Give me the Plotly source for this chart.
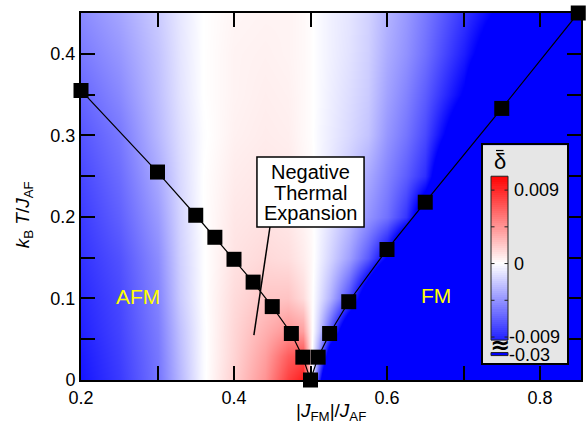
import numpy as np
import plotly.graph_objects as go

# ---------------- data ----------------
# phase boundary points
J_FM = [0.2, 0.3, 0.35, 0.375, 0.4, 0.425, 0.45, 0.475, 0.49, 0.5, 0.51, 0.525, 0.55, 0.6, 0.65, 0.75, 0.85]
T_C = [0.355, 0.255, 0.202, 0.175, 0.148, 0.12, 0.09, 0.057, 0.028, 0.0, 0.028, 0.057, 0.096, 0.16, 0.218, 0.333, 0.45]

# background map of delta-bar (units of 1e-3)
GRID_X = [0.2, 0.25, 0.3, 0.33, 0.36, 0.4, 0.44, 0.47, 0.49, 0.5, 0.51, 0.525, 0.55, 0.575, 0.6, 0.625, 0.65, 0.7, 0.75, 0.8, 0.855]
GRID_T = [0.0, 0.03, 0.06, 0.1, 0.15, 0.2, 0.25, 0.3, 0.35, 0.4, 0.45]
DELTA_T000 = [-9.8, -8.3, -5.8, -3.0, -0.2, 2.0, 4.5, 8.0, 9.5, 1.0, -8.0, -20, -20, -20, -20, -20, -20, -20, -20, -20, -20]
DELTA_T003 = [-9.6, -8.1, -5.7, -2.8, -0.2, 1.8, 4.0, 6.8, 7.5, 0.5, -4.0, -14, -20, -20, -20, -20, -20, -20, -20, -20, -20]
DELTA_T006 = [-9.3, -7.9, -5.5, -2.6, -0.2, 1.7, 3.3, 4.5, 4.0, 0.5, -2.0, -7.0, -15, -20, -20, -20, -20, -20, -20, -20, -20]
DELTA_T010 = [-9.0, -7.7, -5.2, -2.2, -0.1, 1.5, 2.4, 2.5, 1.5, 0.3, -1.0, -3.2, -7.5, -14, -20, -20, -20, -20, -20, -20, -20]
DELTA_T015 = [-8.6, -7.3, -4.8, -2.0, -0.1, 1.2, 1.6, 1.4, 0.8, 0.3, -0.5, -1.8, -4.0, -7.0, -11, -18, -20, -20, -20, -20, -20]
DELTA_T020 = [-8.2, -6.7, -4.2, -1.8, 0.0, 1.0, 1.2, 1.0, 0.5, 0.2, -0.3, -1.2, -2.7, -4.5, -6.0, -8.5, -14, -20, -20, -20, -20]
DELTA_T025 = [-7.7, -6.2, -3.6, -1.6, 0.0, 0.8, 1.0, 0.9, 0.4, 0.2, -0.3, -1.0, -2.2, -3.6, -5.2, -6.8, -8.8, -20, -20, -20, -20]
DELTA_T030 = [-7.1, -5.7, -3.0, -1.4, -0.1, 0.6, 0.8, 0.7, 0.3, 0.1, -0.3, -0.8, -1.6, -2.5, -4.4, -5.8, -7.6, -14, -20, -20, -20]
DELTA_T035 = [-6.4, -5.0, -2.7, -1.2, 0.0, 0.5, 0.7, 0.6, 0.3, 0.1, -0.2, -0.7, -1.4, -2.2, -3.9, -5.2, -6.8, -11, -20, -20, -20]
DELTA_T040 = [-5.6, -4.4, -2.5, -1.1, 0.0, 0.5, 0.6, 0.5, 0.3, 0.1, -0.2, -0.6, -1.2, -2.0, -3.5, -4.6, -6.0, -9.5, -14, -20, -20]
DELTA_T045 = [-4.9, -3.8, -2.2, -1.0, 0.0, 0.4, 0.5, 0.5, 0.3, 0.1, -0.2, -0.6, -1.1, -1.9, -3.2, -4.3, -5.6, -8.5, -11.5, -20, -20]
DELTA_SCALE = 1e-3

# colour bar
CB_MIN, CB_MAX = -0.00937, 0.0107
CB_TICKS = [0.009, 0.0045, 0.0, -0.0045, -0.009]
CB_LABELS = ["0.009", "0", "-0.009"]
CB_LABEL_VALS = [0.009, 0.0, -0.009]
CB_BREAK_VAL = -0.03

FONT = "Liberation Sans, Arial, sans-serif"

z = np.array([DELTA_T000, DELTA_T003, DELTA_T006, DELTA_T010, DELTA_T015, DELTA_T020,
              DELTA_T025, DELTA_T030, DELTA_T035, DELTA_T040, DELTA_T045]) * DELTA_SCALE

fig = go.Figure()

fig.add_trace(go.Heatmap(x=GRID_X, y=GRID_T, z=z, coloraxis="coloraxis",
                         zsmooth="best", hoverinfo="skip"))

fig.add_trace(go.Scatter(x=J_FM, y=T_C, mode="lines+markers",
                         line=dict(color="black", width=1.2),
                         marker=dict(symbol="square", size=15, color="black"),
                         cliponaxis=False, showlegend=False))

# ---- manual colour bar in an inset subplot ----
cb_edges = np.linspace(CB_MIN, CB_MAX, 81)
cb_mid = (cb_edges[:-1] + cb_edges[1:]) / 2
fig.add_trace(go.Heatmap(x=[8, 25], y=cb_edges, z=cb_mid.reshape(-1, 1),
                         coloraxis="coloraxis", xaxis="x2", yaxis="y2",
                         hoverinfo="skip"))
fig.add_trace(go.Heatmap(x=[8, 25], y=[-0.01127, -0.0109], z=[[CB_BREAK_VAL]],
                         coloraxis="coloraxis", xaxis="x2", yaxis="y2",
                         hoverinfo="skip"))

shapes = []
# outline of colour bar and break strip
shapes.append(dict(type="rect", xref="x2", yref="y2", x0=8, x1=25, y0=CB_MIN, y1=CB_MAX,
                   line=dict(color="#222", width=1), layer="above"))
shapes.append(dict(type="rect", xref="x2", yref="y2", x0=8, x1=25, y0=-0.01127, y1=-0.0109,
                   line=dict(color="#222", width=1), layer="above"))
for v in CB_TICKS:
    shapes.append(dict(type="line", xref="x2", yref="y2", x0=8, x1=11.5, y0=v, y1=v,
                       line=dict(color="#222", width=1)))
    shapes.append(dict(type="line", xref="x2", yref="y2", x0=21.5, x1=25, y0=v, y1=v,
                       line=dict(color="#222", width=1)))
# overline of the delta-bar symbol
shapes.append(dict(type="line", xref="x2", yref="y2", x0=13.0, x1=20.5, y0=0.01385, y1=0.01385,
                   line=dict(color="black", width=1.2)))

# Negative thermal expansion box + pointer line
shapes.append(dict(type="rect", xref="x", yref="y", x0=0.430, x1=0.570, y0=0.1876, y1=0.2734,
                   fillcolor="white", line=dict(color="black", width=1.5), layer="above"))
shapes.append(dict(type="line", xref="x", yref="y", x0=0.447, y0=0.1876, x1=0.426, y1=0.055,
                   line=dict(color="black", width=1.5), layer="above"))

annotations = []
for txt, ty in zip(["Negative", "Thermal", "Expansion"], [0.2545, 0.2295, 0.2045]):
    annotations.append(dict(x=0.5, y=ty, xref="x", yref="y", text=txt, showarrow=False,
                            font=dict(family=FONT, size=20, color="black")))
annotations.append(dict(x=0.2745, y=0.103, xref="x", yref="y", text="AFM", showarrow=False,
                        font=dict(family=FONT, size=21, color="#ffff00")))
annotations.append(dict(x=0.664, y=0.104, xref="x", yref="y", text="FM", showarrow=False,
                        font=dict(family=FONT, size=21, color="#ffff00")))
for lab, v in zip(CB_LABELS, CB_LABEL_VALS):
    xa = 23.5 if lab.startswith("-") else 29
    annotations.append(dict(x=xa, y=v, xref="x2", yref="y2", text=lab, showarrow=False,
                            xanchor="left", font=dict(family=FONT, size=18, color="black")))
annotations.append(dict(x=23.5, y=-0.01125, xref="x2", yref="y2", text="-0.03", showarrow=False,
                        xanchor="left", font=dict(family=FONT, size=18, color="black")))
annotations.append(dict(x=16.5, y=-0.0100, xref="x2", yref="y2", text="<b>≈</b>", showarrow=False,
                        font=dict(family="DejaVu Sans", size=24, color="black")))
annotations.append(dict(x=16.7, y=0.0125, xref="x2", yref="y2", text="δ", showarrow=False,
                        font=dict(family=FONT, size=22, color="black")))

# axis titles as annotations (precise placement)
annotations.append(dict(x=0.5, y=-0.088, xref="paper", yref="paper", yanchor="middle",
                        text="|<i>J</i><sub>FM</sub>|/<i>J</i><sub>AF</sub>", showarrow=False,
                        font=dict(family=FONT, size=19, color="black")))
annotations.append(dict(x=-0.115, y=0.45, xref="paper", yref="paper", xanchor="center",
                        text="<i>k</i><sub>B</sub> <i>T</i>/<i>J</i><sub>AF</sub>", showarrow=False,
                        textangle=-90, font=dict(family=FONT, size=19, color="black")))

axis_common = dict(showgrid=False, zeroline=False, ticks="inside", ticklen=14, tickwidth=1.5,
                   tickcolor="black", showline=True, linecolor="black", linewidth=2,
                   mirror="ticks", automargin=False,
                   tickfont=dict(family=FONT, size=18, color="black"))

fig.update_layout(
    width=587, height=428, autosize=False,
    margin=dict(l=81, r=6, t=13, b=48),
    paper_bgcolor="white", plot_bgcolor="#e6e6e6",
    showlegend=False,
    coloraxis=dict(cmin=-0.0107, cmax=0.0107, showscale=False,
                   colorscale=[[0, "#0000ff"], [0.5, "#ffffff"], [1, "#ff0000"]]),
    xaxis=dict(range=[0.2, 0.8536], tickvals=[0.2, 0.4, 0.6, 0.8], ticktext=["0.2", "0.4", "0.6", "0.8"],
               minor=dict(dtick=0.1, tick0=0.2, ticks="inside", ticklen=14, tickwidth=1.5, tickcolor="black"),
               **axis_common),
    yaxis=dict(range=[0, 0.45], tickvals=[0, 0.1, 0.2, 0.3, 0.4], ticktext=["0", "0.1", "0.2", "0.3", "0.4"],
               minor=dict(dtick=0.05, tick0=0, ticks="inside", ticklen=14, tickwidth=1.5, tickcolor="black"),
               **axis_common),
    xaxis2=dict(domain=[0.804, 0.972], range=[0, 84], anchor="y2", showgrid=False, zeroline=False,
                showticklabels=False, ticks="", showline=True, mirror=True, linecolor="black", linewidth=1.5,
                fixedrange=True, automargin=False),
    yaxis2=dict(domain=[0.0463, 0.640], range=[-0.01218, 0.01451], anchor="x2", showgrid=False,
                zeroline=False, showticklabels=False, ticks="", showline=True, mirror=True,
                linecolor="black", linewidth=1.5, fixedrange=True, automargin=False),
    shapes=shapes,
    annotations=annotations,
)

fig.write_html("out.html", config={"displayModeBar": False},
               post_script="document.body.style.margin='0';document.body.style.overflow='hidden';")
